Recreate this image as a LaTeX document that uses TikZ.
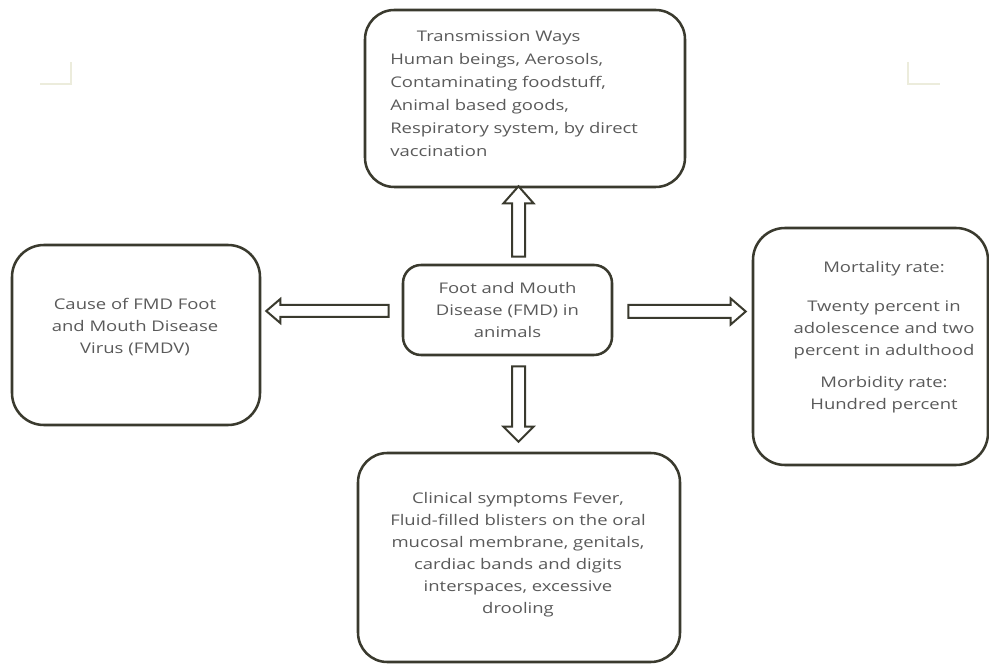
\documentclass[tikz,border=0pt]{standalone}
\usepackage{fontspec}
\setmainfont{Open Sans}[FakeStretch=1.26]
\usetikzlibrary{calc}
\definecolor{linec}{HTML}{3A3A2E}
\definecolor{textc}{HTML}{5A5A5A}
\definecolor{markc}{HTML}{ECECDC}
\begin{document}
\begin{tikzpicture}[x=0.75pt,y=-0.75pt,
  box/.style={draw=linec,line width=1.9pt,fill=white,inner sep=0pt},
  txt/.style={text=textc,font=\fontsize{11}{16.5}\selectfont,inner sep=0pt,align=center},
  blk/.style={draw=linec,line width=1.5pt,fill=white,line join=miter}]
\useasboundingbox (0,0) rectangle (989,666);
% faint corner marks
\draw[markc,line width=0.8pt] (40,84) -- (71,84) -- (71,62);
\draw[markc,line width=0.8pt] (908,62) -- (908,84) -- (940,84);
% boxes (sizes in px * 0.75 = pt)
\node[box,rounded corners=22pt,minimum width=240pt,minimum height=132.75pt] (top) at (525,98.5) {};
\node[box,rounded corners=13.5pt,minimum width=156.75pt,minimum height=67.5pt] (ctr) at (507.5,310) {};
\node[box,rounded corners=24pt,minimum width=186pt,minimum height=135pt] (lft) at (136,335) {};
\node[box,rounded corners=24pt,minimum width=176.25pt,minimum height=177.75pt] (rgt) at (870.5,346.5) {};
\node[box,rounded corners=22pt,minimum width=241.5pt,minimum height=156.75pt] (bot) at (519,557.5) {};
% texts
\node[txt,align=left,anchor=north west,font=\fontsize{11}{17.25}\selectfont] (toptxt) at (390,30)
 {\hspace*{20pt}Transmission Ways\\Human beings, Aerosols,\\Contaminating foodstuff,\\Animal based goods,\\Respiratory system, by direct\\vaccination};
\node[txt] (ctrtxt) at (507.5,310) {Foot and Mouth\\Disease (FMD) in\\animals};
\node[txt] (lfttxt) at (135,327) {Cause of FMD Foot\\and Mouth Disease\\Virus (FMDV)};
\node[txt,anchor=north] (rgttxt1) at (884,261) {Mortality rate:};
\node[txt,anchor=north] (rgttxt2) at (884,300) {Twenty percent in\\adolescence and two\\percent in adulthood};
\node[txt,anchor=north] (rgttxt3) at (884,376) {Morbidity rate:\\Hundred percent};
\node[txt] (bottxt) at (518,555) {Clinical symptoms Fever,\\Fluid-filled blisters on the oral\\mucosal membrane, genitals,\\cardiac bands and digits\\interspaces, excessive\\drooling};
% up arrow
\coordinate (ub) at ($(ctr.north)+(11,-7)$);
\coordinate (ut) at ($(ub |- top.south)+(0,-2)$);
\draw[blk] ($(ub)+(-6.5,0)$) -- ($(ut)+(-6.5,17)$) -- ($(ut)+(-15,17)$) -- (ut) -- ($(ut)+(15,17)$) -- ($(ut)+(6.5,17)$) -- ($(ub)+(6.5,0)$) -- cycle;
% down arrow
\coordinate (db) at ($(ctr.south)+(11,10)$);
\coordinate (dt) at ($(db |- bot.north)+(0,-10)$);
\draw[blk] ($(db)+(-6.5,0)$) -- ($(dt)+(-6.5,-15)$) -- ($(dt)+(-15,-15)$) -- (dt) -- ($(dt)+(15,-15)$) -- ($(dt)+(6.5,-15)$) -- ($(db)+(6.5,0)$) -- cycle;
% left arrow
\coordinate (lb) at ($(ctr.west)+(-13,1)$);
\coordinate (lt) at ($(lb -| lft.east)+(5,0)$);
\draw[blk] ($(lb)+(0,-6)$) -- ($(lt)+(14,-6)$) -- ($(lt)+(14,-12)$) -- (lt) -- ($(lt)+(14,12)$) -- ($(lt)+(14,6)$) -- ($(lb)+(0,6)$) -- cycle;
% right arrow
\coordinate (rb) at ($(ctr.east)+(15,1.5)$);
\coordinate (rt) at ($(rb -| rgt.west)+(-6,0)$);
\draw[blk] ($(rb)+(0,-6.5)$) -- ($(rt)+(-15,-6.5)$) -- ($(rt)+(-15,-13)$) -- (rt) -- ($(rt)+(-15,13)$) -- ($(rt)+(-15,6.5)$) -- ($(rb)+(0,6.5)$) -- cycle;
\end{tikzpicture}
\end{document}
